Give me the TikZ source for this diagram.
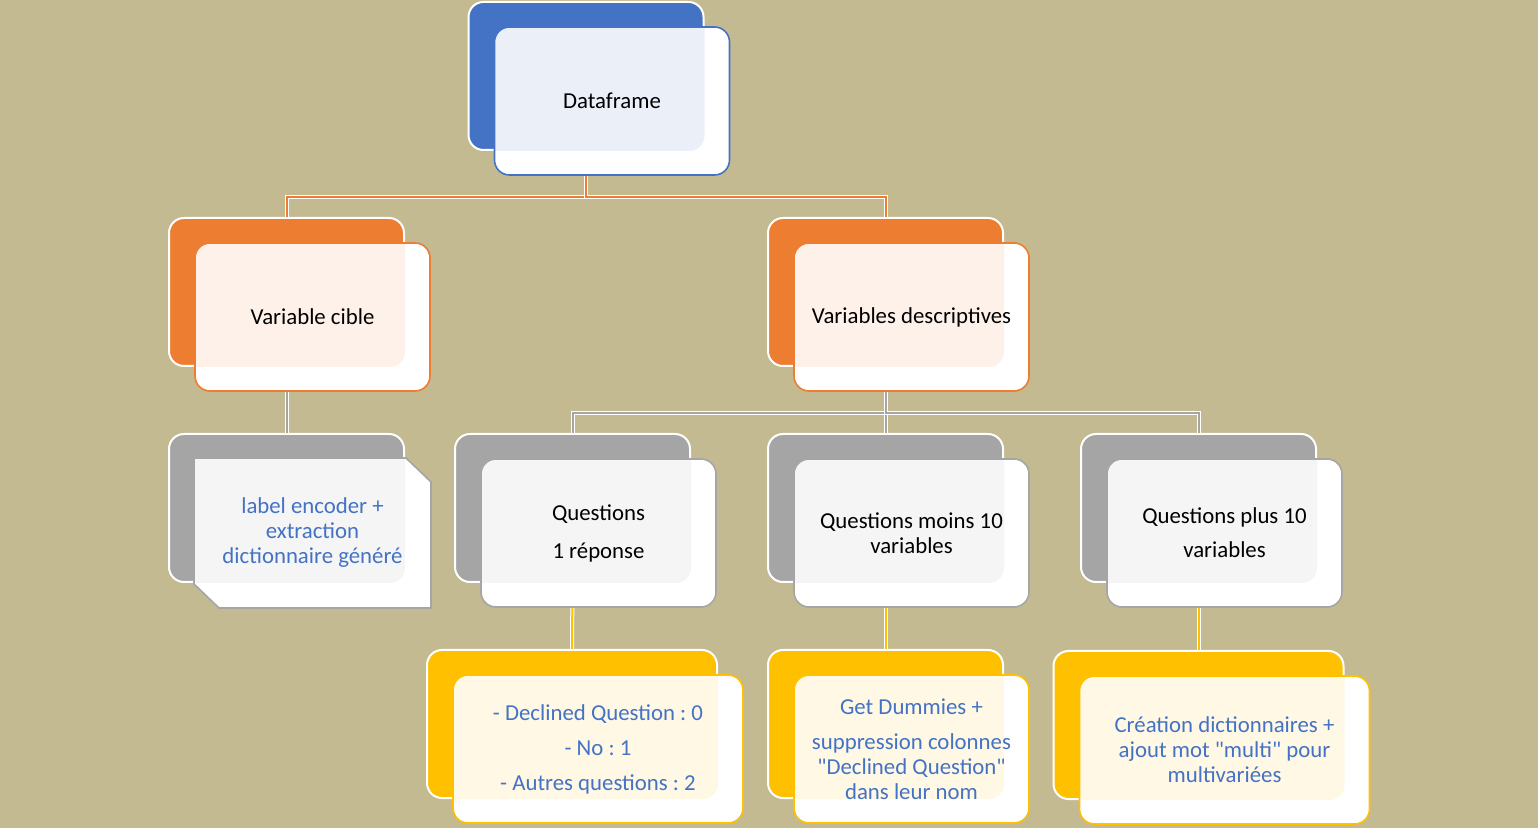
\documentclass[tikz,border=0pt]{standalone}
\usepackage{fontspec}
\setmainfont{Carlito}
\usetikzlibrary{calc}
\frenchspacing

\definecolor{bgtan}{HTML}{C3BA91}
\definecolor{dfblue}{HTML}{4472C4}
\definecolor{varorange}{HTML}{ED7D31}
\definecolor{qgray}{HTML}{A5A5A5}
\definecolor{tyellow}{HTML}{FFC000}
\definecolor{txtblue}{HTML}{4472C4}

\tikzset{
  backbox/.style={rectangle, rounded corners=7.5pt, fill=#1, draw=white, line width=1pt,
    minimum width=117.5pt, minimum height=74pt},
  tint/.style 2 args={path picture={\fill[#1, opacity=0.1, rounded corners=7.5pt]
    (#2.north west) rectangle (#2.south east);}},
  boxtext/.style={align=center, font=\fontsize{11.4}{12.5}\selectfont},
  frontbox/.style 2 args={rectangle, rounded corners=7.5pt, draw=#1, line width=0.8pt,
    fill=white, tint={#1}{#2}, minimum width=117.5pt, minimum height=74pt, boxtext},
  widebox/.style={minimum width=145pt},
  link/.style={draw=white, double=#1, double distance=1pt, line width=0.5pt},
}

\begin{document}
\begin{tikzpicture}[x=0.5pt, y=-0.5pt]
\useasboundingbox (0,0) rectangle (1538,828);
\fill[bgtan] (0,0) rectangle (1538,828);

% back boxes
\node[backbox=dfblue] (df-b) at (586,76) {};
\node[backbox=varorange] (vc-b) at (286.5,292) {};
\node[backbox=varorange] (vd-b) at (885.5,292) {};
\node[backbox=qgray] (le-b) at (286.5,508) {};
\node[backbox=qgray] (q1-b) at (572.5,508) {};
\node[backbox=qgray] (qm-b) at (885.5,508) {};
\node[backbox=qgray] (qp-b) at (1198.5,508) {};
\node[backbox=tyellow, widebox] (dc-b) at (572,724) {};
\node[backbox=tyellow] (gd-b) at (885.5,724) {};
\node[backbox=tyellow, widebox] (cr-b) at (1198.5,725) {};

% connectors
\foreach \child in {vc-b,vd-b}{
  \draw[link=varorange] (df-b.south) -- ++(0,46) -| (\child.north);
}
\draw[link=qgray] (vc-b.south) -- (le-b.north);
\foreach \child in {q1-b,qm-b,qp-b}{
  \draw[link=qgray] (vd-b.south) -- ++(0,46) -| (\child.north);
}
\draw[link=tyellow] (q1-b.south) -- (dc-b.north);
\draw[link=tyellow] (qm-b.south) -- (gd-b.north);
\draw[link=tyellow] (qp-b.south) -- (cr-b.north);

% front boxes
\node[frontbox={dfblue}{df-b}] (df) at ($(df-b)+(26,25)$) {Dataframe};
\node[frontbox={varorange}{vc-b}] (vc) at ($(vc-b)+(26,25)$) {Variable cible};
\node[frontbox={varorange}{vd-b}] (vd) at ($(vd-b)+(26,25)$) {Variables descriptives};
% snipped box
\filldraw[draw=qgray, line width=0.8pt, fill=white, tint={qgray}{le-b}]
  ($(le-b.north west)+(26,25)$) -- ($(le-b.north east)+(1,25)$)
  -- ($(le-b.north east)+(26,49)$) -- ($(le-b.south east)+(26,25)$)
  -- ($(le-b.south west)+(51,25)$) -- ($(le-b.south west)+(26,1)$) -- cycle;
\node[boxtext, text=txtblue] (le) at ($(le-b)+(26,25)$)
  {label encoder +\\ extraction\\ dictionnaire généré};
\node[frontbox={qgray}{q1-b}] (q1) at ($(q1-b)+(26,25)$) {Questions\\[6.5pt] 1 réponse};
\node[frontbox={qgray}{qm-b}] (qm) at ($(qm-b)+(26,25)$) {Questions moins 10\\ variables};
\node[frontbox={qgray}{qp-b}] (qp) at ($(qp-b)+(26,25)$) {Questions plus 10\\[4.5pt] variables};
\node[frontbox={tyellow}{dc-b}, widebox, text=txtblue] (dc) at ($(dc-b)+(26,25)$)
  {- Declined Question : 0\\[5pt] - No : 1\\[5pt] - Autres questions : 2};
\node[frontbox={tyellow}{gd-b}, text=txtblue] (gd) at ($(gd-b)+(26,25)$)
  {Get Dummies +\\[5pt] suppression colonnes\\ \textquotedbl Declined Question\textquotedbl\\ dans leur nom};
\node[frontbox={tyellow}{cr-b}, widebox, text=txtblue] (cr) at ($(cr-b)+(26,25)$)
  {Création dictionnaires +\\ ajout mot \textquotedbl multi\textquotedbl{} pour\\ multivariées};
\end{tikzpicture}
\end{document}
